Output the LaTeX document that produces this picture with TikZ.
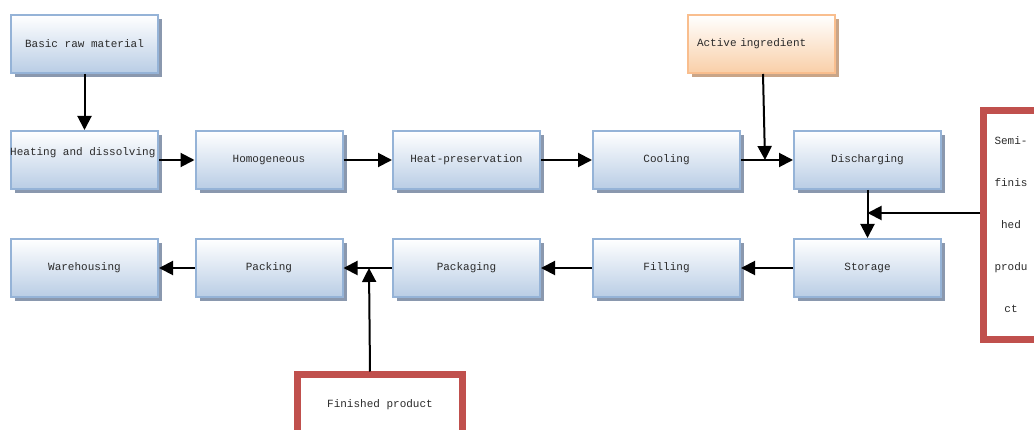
\documentclass[tikz,border=0pt]{standalone}
\usepackage{fontspec}
\setmonofont{Liberation Mono}
\usetikzlibrary{arrows.meta,calc}
\definecolor{bborder}{HTML}{95B3D7}
\definecolor{bbottom}{HTML}{B9CDE5}
\definecolor{bshadow}{HTML}{8A98AE}
\definecolor{oborder}{HTML}{F9BE8E}
\definecolor{obottom}{HTML}{F9CFA8}
\definecolor{oshadow}{HTML}{C9A588}
\definecolor{rborder}{HTML}{C0504D}
\definecolor{txtc}{HTML}{2A2A2A}
\tikzset{
  boxbase/.style={minimum width=147pt, minimum height=58pt, inner sep=0pt, line width=2pt,
    font=\ttfamily\fontsize{11}{13}\selectfont, text=txtc},
  bluebox/.style={boxbase, draw=bborder, top color=white, bottom color=bbottom,
    preaction={fill=bshadow, transform canvas={shift={(4pt,-4pt)}}}},
  orangebox/.style={boxbase, draw=oborder, top color=white, bottom color=obottom,
    preaction={fill=oshadow, transform canvas={shift={(4pt,-4pt)}}}},
  redbox/.style={draw=rborder, fill=white, line width=7pt, inner sep=0pt,
    font=\ttfamily\fontsize{11}{13}\selectfont, text=txtc},
  txt/.style={inner sep=0pt, font=\ttfamily\fontsize{11}{13}\selectfont, text=txtc},
  arr/.style={line width=2pt, -{Triangle[length=14pt,width=14pt]}},
}
\begin{document}
\begin{tikzpicture}[x=1pt,y=-1pt]
\useasboundingbox (0,0) rectangle (1034,430);
% top
\node[bluebox] (raw) at (84.5,44) {Basic raw material};
\node[orangebox, text width=129pt, align=left] (act) at (761.5,44) {Active ingredient};
% row 1
\node[bluebox] (heat) at (84.5,160) {};
\node[txt, anchor=west] (heattxt) at ([yshift=7pt]heat.west) {Heating and dissolving};
\node[bluebox] (homo) at (269,160) {Homogeneous};
\node[bluebox] (pres) at (466.5,160) {Heat-preservation};
\node[bluebox] (cool) at (666.5,160) {Cooling};
\node[bluebox] (dis) at (867.5,160) {Discharging};
% row 2
\node[bluebox] (ware) at (84.5,268) {Warehousing};
\node[bluebox] (pack) at (269,268) {Packing};
\node[bluebox] (pkg) at (466.5,268) {Packaging};
\node[bluebox] (fill) at (666.5,268) {Filling};
\node[bluebox] (stor) at (867.5,268) {Storage};
% red boxes
\node[redbox, minimum width=61pt, minimum height=229pt, align=center,
  font=\ttfamily\fontsize{11}{42}\selectfont] (semi) at (1014,225)
  {\hspace*{-6pt}Semi-\\\hspace*{-6pt}finis\\\hspace*{-6pt}hed\\\hspace*{-6pt}produ\\\hspace*{-6pt}ct};
\node[redbox, minimum width=165pt, minimum height=100pt] (fin) at (379.5,425) {};
\node[txt] (fintxt) at (380,405) {Finished product};
% arrows
\draw[arr] (raw) -- (heat);
\draw[arr] (heat.east) -- (homo.west);
\draw[arr] (homo) -- (pres);
\draw[arr] (pres) -- (cool);
\draw[arr] (cool) -- (dis);
\draw[arr] ([xshift=1.5pt]act.south) -- ([xshift=3.5pt]act.south |- cool.east);
\draw[arr] (dis) -- (stor);
\coordinate (sa) at ([yshift=12pt]semi.west);
\draw[arr] (sa) -- (dis.south |- sa);
\draw[arr] (stor) -- (fill);
\draw[arr] (fill) -- (pkg);
\draw[arr] (pkg) -- (pack);
\draw[arr] (pack) -- (ware);
\draw[arr] ([xshift=-9.5pt]fin.north) -- ([xshift=-10.5pt]fin.north |- pack.east);
\end{tikzpicture}
\end{document}
